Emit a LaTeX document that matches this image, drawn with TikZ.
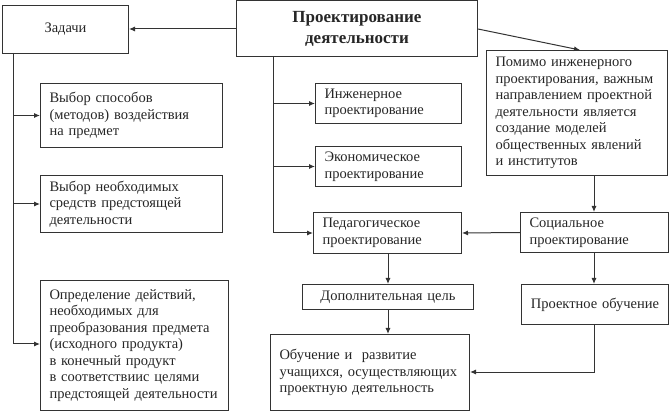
\documentclass[tikz,border=0pt]{standalone}
\usepackage{fontspec}
\setmainfont{Liberation Serif}
\usetikzlibrary{arrows.meta}

\begin{document}
\begin{tikzpicture}[x=1pt, y=-1pt,
    blk/.style={draw=black!80, line width=1pt, anchor=north west, inner xsep=9pt, inner ysep=2pt,
        text=black!85, font=\fontsize{14.5}{16.5}\selectfont},
    lbox/.style={blk, align=left, execute at begin node={\rightskip=-14pt plus 1fil}},
    cbox/.style={blk, align=center},
    arr/.style={draw=black!80, line width=1pt, -{Latex[length=6pt, width=5pt]}},
    ln/.style={draw=black!80, line width=1pt}]

    \useasboundingbox (0,0) rectangle (669,411);

    % top row
    \node[cbox, text width=108pt, minimum height=48pt] (zad) at (2,5) {Задачи};
    \node[cbox, text width=223pt, minimum height=55.5pt, font=\bfseries\fontsize{17}{21}\selectfont] (proj) at (236,0.5)
        {Проектирование\\деятельности};
    \node[lbox, text width=163pt, minimum height=125pt] (pom) at (486,50)
        {Помимо инженерного\\проектирования, важным\\направлением проектной\\деятельности является\\создание моделей\\общественных явлений\\и институтов};

    % left column
    \node[lbox, text width=164pt, minimum height=64pt] (vsp) at (40,83)
        {Выбор способов\\(методов) воздействия\\на предмет};
    \node[lbox, text width=164pt, minimum height=57pt] (vsr) at (40,175)
        {Выбор необходимых\\средств предстоящей\\деятельности};
    \node[lbox, text width=170pt, minimum height=130pt] (opr) at (40,280)
        {Определение действий,\\необходимых для\\преобразования предмета\\(исходного продукта)\\в конечный продукт\\в соответствиис целями\\предстоящей деятельности};

    % middle column
    \node[lbox, text width=128pt, minimum height=40pt] (ing) at (315,83)
        {Инженерное\\проектирование};
    \node[lbox, text width=128pt, minimum height=40pt] (eco) at (315,146)
        {Экономическое\\проектирование};
    \node[lbox, text width=130pt, minimum height=41pt] (ped) at (313,212)
        {Педагогическое\\проектирование};
    \node[cbox, text width=153pt, minimum height=25pt] (dop) at (302,284)
        {Дополнительная цель};
    \node[lbox, text width=181pt, minimum height=76pt] (obu) at (270,334)
        {Обучение и\ \ развитие\\учащихся, осуществляющих\\проектную деятельность};

    % right column
    \node[lbox, text width=130pt, minimum height=40pt] (soc) at (520,212)
        {Социальное\\проектирование};
    \node[cbox, text width=129pt, minimum height=40pt] (pro) at (521,284)
        {Проектное обучение};

    % trunks
    \coordinate (lt) at (13,53);
    \coordinate (lb) at (13,344);
    \coordinate (mt) at (273,56);
    \coordinate (mb) at (273,233);
    \coordinate (pb) at (594,372);

    \draw[arr] (proj.west |- 0,29) -- (zad.east |- 0,29);
    \draw[arr] (proj.east |- 0,29) -- (580,50);

    \draw[ln] (lt) -- (lb);
    \draw[arr] (lt |- vsp.west) -- (vsp.west);
    \draw[arr] (lt |- vsr.west) -- (vsr.west);
    \draw[arr] (lb) -- (lb -| opr.west);

    \draw[ln] (mt) -- (mb);
    \draw[arr] (mt |- ing.west) -- (ing.west);
    \draw[arr] (mt |- eco.west) -- (eco.west);
    \draw[arr] (mb) -- (mb -| ped.west);

    \draw[arr] (pom.south -| pb) -- (soc.north -| pb);
    \draw[arr] (soc.west) -- (ped.east);
    \draw[arr] (soc.south -| pb) -- (pro.north -| pb);
    \draw[arr] (ped.south -| 388,0) -- (dop.north -| 388,0);
    \draw[arr] (dop.south -| 388,0) -- (obu.north -| 388,0);
    \draw[arr] (pro.south -| pb) -- (pb) -- (pb -| obu.east);

\end{tikzpicture}
\end{document}
